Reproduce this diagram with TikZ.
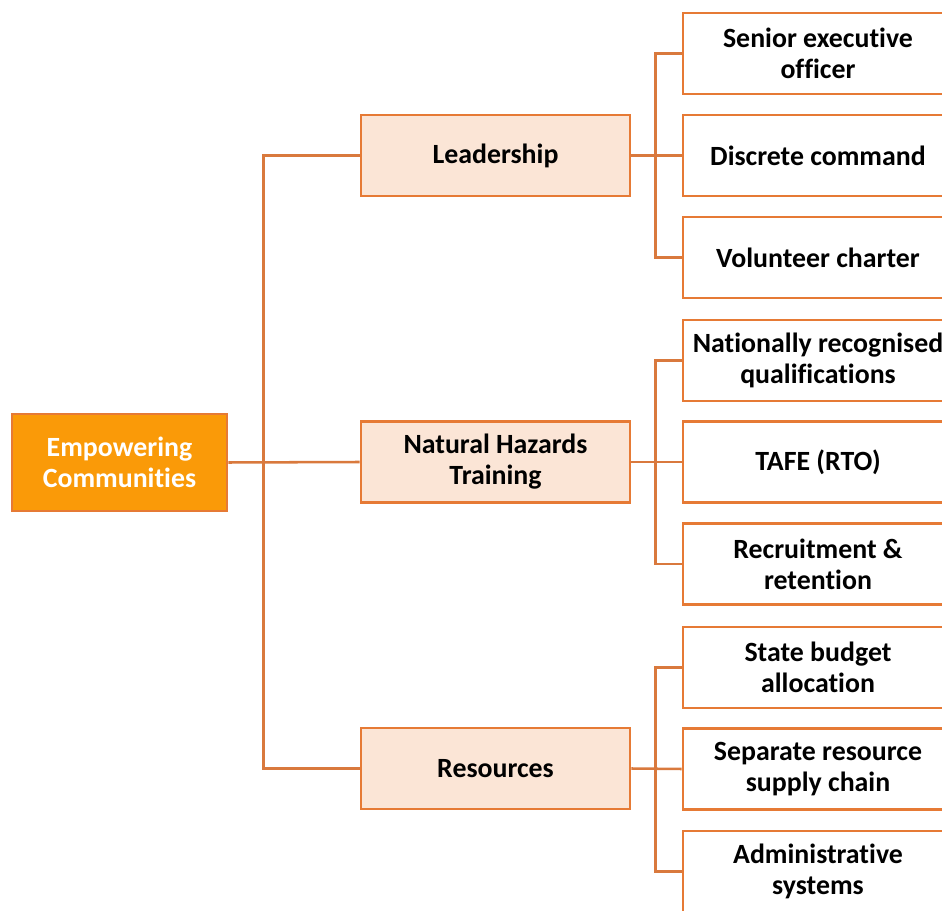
\documentclass[tikz,border=0pt]{standalone}
\usepackage{fontspec}
\setmainfont[Ligatures=NoCommon]{Carlito}
\usepackage{tikz}

\definecolor{boxedge}{HTML}{E67A35}
\definecolor{linkcol}{HTML}{D9793D}
\definecolor{peach}{HTML}{FBE5D6}
\definecolor{rootfill}{HTML}{FA9A08}

\begin{document}
\begin{tikzpicture}[x=0.025cm, y=-0.025cm,
    every node/.style={font=\fontsize{19.8}{22}\selectfont\bfseries, align=center, inner sep=0pt},
    rootbox/.style={draw=boxedge, fill=rootfill, text=white, line width=1.8pt, minimum width=5.375cm, minimum height=2.425cm},
    midbox/.style={draw=boxedge, fill=peach, line width=1.8pt, minimum width=6.725cm, minimum height=2.025cm},
    leafbox/.style={draw=boxedge, fill=white, line width=1.8pt, minimum width=6.75cm, minimum height=2.025cm},
    link/.style={draw=linkcol, line width=1.8pt}]
        \useasboundingbox (0,0) rectangle (942,911);
        \clip (0,0) rectangle (942,911);

        % main boxes
        \node[rootbox] (root) at (119.5,462.5) {Empowering\\Communities};
        \node[midbox] (lead) at (495.5,155.5) {Leadership};
        \node[midbox] (nht) at (495.5,462) {Natural Hazards\\Training};
        \node[midbox] (res) at (495.5,768.5) {Resources};

        % leaf boxes
        \node[leafbox] (seo) at (818,53.5) {Senior executive\\officer};
        \node[leafbox] (dc) at (818,155.5) {Discrete command};
        \node[leafbox] (vc) at (818,257.5) {Volunteer charter};
        \node[leafbox] (nrq) at (818,360.5) {Nationally recognised\\qualifications};
        \node[leafbox] (tafe) at (818,462) {TAFE (RTO)};
        \node[leafbox] (rr) at (818,564) {Recruitment \&\\retention};
        \node[leafbox] (sba) at (818,667.5) {State budget\\allocation};
        \node[leafbox] (srsc) at (818,769) {Separate resource\\supply chain};
        \node[leafbox] (as) at (818,871.5) {Administrative\\systems};

        % connectors
        \draw[link] (lead.west) -- ++(-96,0) |- (res.west);
        \draw[link] (root.east) -- (nht.west);

        \draw[link] (seo.west) -- ++(-26,0) |- (vc.west);
        \draw[link] (lead.east) -- (dc.west);
        \draw[link] (nrq.west) -- ++(-26,0) |- (rr.west);
        \draw[link] (nht.east) -- (tafe.west);
        \draw[link] (sba.west) -- ++(-26,0) |- (as.west);
        \draw[link] (res.east) -- (srsc.west);
    \end{tikzpicture}
\end{document}
